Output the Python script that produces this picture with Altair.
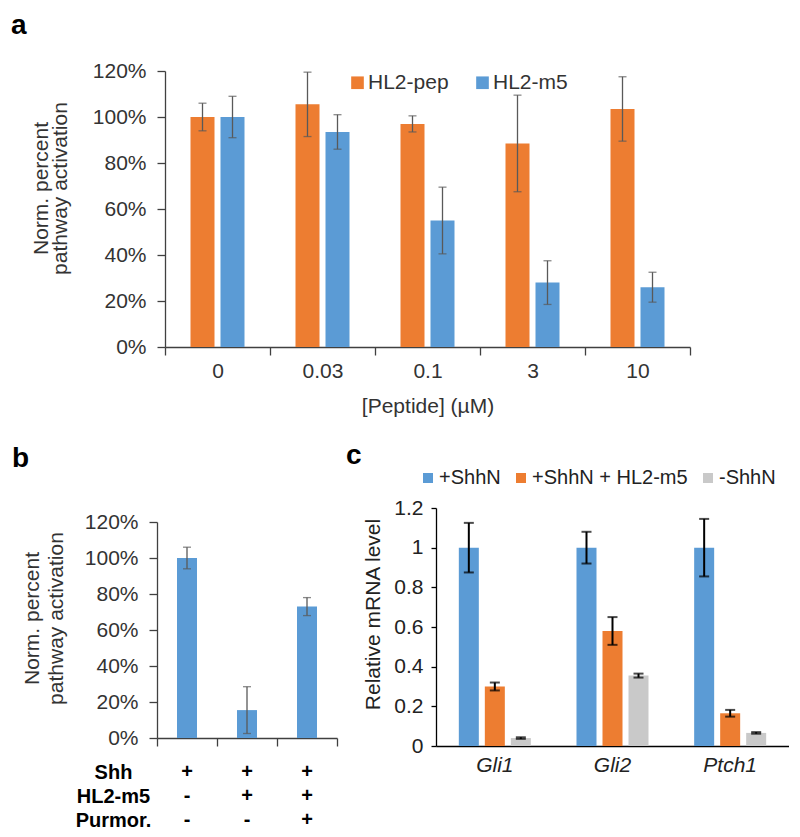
import altair as alt
import pandas as pd

FONT = "Liberation Sans"
ORANGE = "#ED7D31"
BLUE = "#5B9BD5"
GRAY = "#C9C9C9"
AX = "#404040"
TXT = "#333333"

# ---------------- Panel a ----------------
conc = ["0", "0.03", "0.1", "3", "10"]
series_a = ["HL2-pep", "HL2-m5"]
pep_mean = [100, 105.5, 97, 88.5, 103.5]
pep_err = [6, 14, 3.5, 21, 14]
m5_mean = [100, 93.5, 55, 28, 26]
m5_err = [9, 7.5, 14.5, 9.5, 6.5]
pct_ticks = [0, 20, 40, 60, 80, 100, 120]

# ---------------- Panel b ----------------
cond_b = ["1", "2", "3"]
b_mean = [100, 15.5, 73]
b_err = [6, 13, 5]
rows_b = ["Shh", "HL2-m5", "Purmor."]
shh_row = ["+", "+", "+"]
m5_row = ["-", "+", "+"]
pur_row = ["-", "-", "+"]

# ---------------- Panel c ----------------
genes = ["Gli1", "Gli2", "Ptch1"]
series_c = ["+ShhN", "+ShhN + HL2-m5", "-ShhN"]
c_shhn = [1.0, 1.0, 1.0]
c_shhn_err = [0.125, 0.08, 0.145]
c_m5 = [0.30, 0.58, 0.165]
c_m5_err = [0.02, 0.07, 0.017]
c_minus = [0.04, 0.355, 0.066]
c_minus_err = [0.004, 0.01, 0.004]
c_ticks = [0, 0.2, 0.4, 0.6, 0.8, 1.0, 1.2]

# ---------- data tables ----------
dfa = pd.DataFrame({
    "conc": conc * 2,
    "series": [series_a[0]] * 5 + [series_a[1]] * 5,
    "val": pep_mean + m5_mean,
    "err": pep_err + m5_err,
})
dfa["lo"] = dfa["val"] - dfa["err"]
dfa["hi"] = dfa["val"] + dfa["err"]

dfb = pd.DataFrame({"cond": cond_b, "val": b_mean, "err": b_err})
dfb["lo"] = dfb["val"] - dfb["err"]
dfb["hi"] = dfb["val"] + dfb["err"]

dft = pd.DataFrame({
    "cond": cond_b * 3,
    "row": [rows_b[0]] * 3 + [rows_b[1]] * 3 + [rows_b[2]] * 3,
    "sym": shh_row + m5_row + pur_row,
})

dfc = pd.DataFrame({
    "gene": genes * 3,
    "series": [series_c[0]] * 3 + [series_c[1]] * 3 + [series_c[2]] * 3,
    "val": c_shhn + c_m5 + c_minus,
    "err": c_shhn_err + c_m5_err + c_minus_err,
})
dfc["lo"] = dfc["val"] - dfc["err"]
dfc["hi"] = dfc["val"] + dfc["err"]

# ---------- panel a ----------
A_W, A_H = 533, 276
ax_style = dict(domainColor=AX, domainWidth=1.3, tickColor=AX, tickWidth=1.3,
                labelColor=TXT, labelFont=FONT, labelFontSize=21,
                titleColor=TXT, titleFont=FONT, titleFontSize=21, titleFontWeight="normal",
                grid=False)

xa = alt.X("conc:N", sort=conc,
           scale=alt.Scale(range=[8, A_W], paddingInner=0, paddingOuter=0),
           axis=alt.Axis(title="[Peptide] (µM)", labelAngle=0, tickBand="extent",
                         tickSize=8, labelPadding=5, titlePadding=14, **ax_style))
xoa = alt.XOffset("series:N", sort=series_a, scale=alt.Scale(paddingInner=0.2, paddingOuter=0.85))


def ya(field):
    return alt.Y(f"{field}:Q", scale=alt.Scale(domain=[0, 120]),
                 axis=alt.Axis(values=pct_ticks, labelExpr="datum.value + '%'",
                               title=["Norm. percent", "pathway activation"],
                               titleLineHeight=19, titlePadding=22, titleY=117, offset=-8,
                               tickSize=8, labelPadding=11, **ax_style))


bars_a = alt.Chart(dfa).mark_bar().encode(
    x=xa, xOffset=xoa, y=ya("val"),
    color=alt.Color("series:N", sort=series_a,
                    scale=alt.Scale(domain=series_a, range=[ORANGE, BLUE]),
                    legend=alt.Legend(title=None, orient="none", legendX=190, legendY=1,
                                      direction="horizontal", symbolType="square",
                                      symbolSize=160, symbolStrokeWidth=0,
                                      labelFont=FONT, labelFontSize=21, labelColor=TXT,
                                      columnPadding=23, labelOffset=0, padding=0)),
)
err_a = alt.Chart(dfa).mark_rule(color="#595959", strokeWidth=1.3).encode(
    x=xa, xOffset=xoa, y=ya("lo"), y2="hi:Q")
caph_a = alt.Chart(dfa).mark_tick(color="#595959", thickness=1.3, size=8, orient="horizontal").encode(
    x=xa, xOffset=xoa, y=ya("hi"))
capl_a = alt.Chart(dfa).mark_tick(color="#595959", thickness=1.3, size=8, orient="horizontal").encode(
    x=xa, xOffset=xoa, y=ya("lo"))

panel_a = alt.layer(bars_a, err_a, caph_a, capl_a).properties(
    width=A_W, height=A_H,
    title=alt.TitleParams("a", anchor="start", frame="group", fontSize=28, fontWeight="bold",
                          font=FONT, color="black", dx=-146, offset=20),
)

# ---------- panel b (with condition table below) ----------
B_W, B_H = 180, 230
xb = alt.X("cond:N", sort=cond_b,
           scale=alt.Scale(paddingInner=0, paddingOuter=0),
           axis=alt.Axis(title=None, labels=False, tickBand="extent", tickSize=8, **ax_style))


def yb(field):
    return alt.Y(f"{field}:Q", scale=alt.Scale(domain=[0, 120], range=[B_H, 14]),
                 axis=alt.Axis(values=pct_ticks, labelExpr="datum.value + '%'",
                               title=["Norm. percent", "pathway activation"],
                               titleLineHeight=24, titlePadding=18, titleY=110,
                               tickSize=8, labelPadding=11, **ax_style))


bars_b = alt.Chart(dfb).mark_bar(color=BLUE, width=20).encode(x=xb, y=yb("val"))
err_b = alt.Chart(dfb).mark_rule(color="#595959", strokeWidth=1.3).encode(x=xb, y=yb("lo"), y2="hi:Q")
caph_b = alt.Chart(dfb).mark_tick(color="#595959", thickness=1.3, size=8, orient="horizontal").encode(
    x=xb, y=yb("hi"))
capl_b = alt.Chart(dfb).mark_tick(color="#595959", thickness=1.3, size=8, orient="horizontal").encode(
    x=xb, y=yb("lo"))

table_b = alt.Chart(dft).mark_text(font=FONT, fontSize=20, fontWeight="bold", color="black").encode(
    x=xb,
    y=alt.Y("row:N", sort=rows_b,
            scale=alt.Scale(type="point", range=[264, 312], padding=0),
            axis=alt.Axis(title=None, orient="left", domain=False, ticks=False, tickSize=0,
                          labelAlign="center", labelPadding=44, labelFont=FONT, labelFontSize=20,
                          labelFontWeight="bold", labelColor="black", grid=False)),
    text="sym:N",
)

panel_b = alt.layer(
    alt.layer(bars_b, err_b, caph_b, capl_b), table_b
).resolve_scale(y="independent").resolve_axis(y="independent").properties(
    width=B_W, height=B_H,
    title=alt.TitleParams("b", anchor="start", frame="group", fontSize=28, fontWeight="bold",
                          font=FONT, color="black", dx=-145, offset=35),
)

# ---------- panel c ----------
C_W, C_H = 353, 238
cx_style = dict(domainColor="black", domainWidth=1.3, tickColor="black", tickWidth=1.3,
                labelColor="#222222", labelFont=FONT, labelFontSize=21,
                titleColor="#222222", titleFont=FONT, titleFontSize=21, titleFontWeight="normal",
                grid=False)
xc = alt.X("gene:N", sort=genes,
           scale=alt.Scale(paddingInner=0.388, paddingOuter=0.194),
           axis=alt.Axis(title=None, labelAngle=0, ticks=False, tickSize=0, labelPadding=8,
                         labelFontStyle="italic", **cx_style))
xoc = alt.XOffset("series:N", sort=series_c, scale=alt.Scale(paddingInner=0.2308, paddingOuter=0))


def yc(field):
    return alt.Y(f"{field}:Q", scale=alt.Scale(domain=[0, 1.2]),
                 axis=alt.Axis(values=c_ticks, format=".1~f", title="Relative mRNA level",
                               titlePadding=10, titleY=106, tickSize=5, labelPadding=8, **cx_style))


bars_c = alt.Chart(dfc).mark_bar().encode(
    x=xc, xOffset=xoc, y=yc("val"),
    color=alt.Color("series:N", sort=series_c,
                    scale=alt.Scale(domain=series_c, range=[BLUE, ORANGE, GRAY]),
                    legend=alt.Legend(title=None, orient="none", legendX=-18, legendY=-40,
                                      direction="horizontal", symbolType="square",
                                      symbolSize=100, symbolStrokeWidth=0,
                                      labelFont=FONT, labelFontSize=20, labelColor="#222222",
                                      columnPadding=10, labelOffset=1, padding=0)),
)
err_c = alt.Chart(dfc).mark_rule(color="black", strokeWidth=2).encode(
    x=xc, xOffset=xoc, y=yc("lo"), y2="hi:Q")
caph_c = alt.Chart(dfc).mark_tick(color="black", thickness=2, size=10, orient="horizontal").encode(
    x=xc, xOffset=xoc, y=yc("hi"))
capl_c = alt.Chart(dfc).mark_tick(color="black", thickness=2, size=10, orient="horizontal").encode(
    x=xc, xOffset=xoc, y=yc("lo"))

panel_c = alt.layer(bars_c, err_c, caph_c, capl_c).properties(
    width=C_W, height=C_H,
    title=alt.TitleParams("c", anchor="start", frame="group", fontSize=28, fontWeight="bold",
                          font=FONT, color="black", dx=-90, offset=-2),
)

row2 = alt.hconcat(panel_b, panel_c, spacing=99, bounds="flush").resolve_scale(
    color="independent", xOffset="independent").resolve_legend(color="independent")
chart = alt.vconcat(panel_a, row2, spacing=161, bounds="flush").resolve_scale(
    color="independent", xOffset="independent").resolve_legend(color="independent").properties(
    padding={"left": 3, "top": 4, "right": 0, "bottom": 0}
).configure(font=FONT).configure_view(stroke=None)

chart.save("out.html", embed_options={"renderer": "svg", "actions": False})
